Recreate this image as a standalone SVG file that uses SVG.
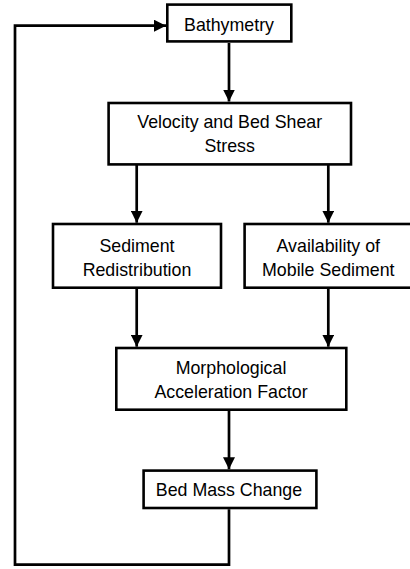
<svg xmlns="http://www.w3.org/2000/svg" width="410" height="569" viewBox="0 0 410 569">
<style>
.box{fill:#fff;stroke:#000;stroke-width:2.6}
.lbl{font-family:"Liberation Sans",Arial,sans-serif;font-size:17.8px;fill:#000;text-anchor:middle}
.edge{fill:none;stroke:#000;stroke-width:2.7}
</style>
<defs>
<marker id="ah" viewBox="0 0 12 12" refX="12" refY="6" markerWidth="12" markerHeight="12" markerUnits="userSpaceOnUse" orient="auto">
<path d="M0,0 L12,6 L0,12 z" fill="#000"/>
</marker>
</defs>
<rect width="410" height="569" fill="#fff"/>
<g id="connectors">
<path class="edge" d="M229,43 V101.5" marker-end="url(#ah)"/>
<path class="edge" d="M136.7,165 V222.7" marker-end="url(#ah)"/>
<path class="edge" d="M328.3,165 V222.7" marker-end="url(#ah)"/>
<path class="edge" d="M136.7,289 V346.7" marker-end="url(#ah)"/>
<path class="edge" d="M328.3,289 V346.7" marker-end="url(#ah)"/>
<path class="edge" d="M229,411 V469.3" marker-end="url(#ah)"/>
<path class="edge" d="M229,509.3 V564.7 H15 V25.7 H166" marker-end="url(#ah)"/>
</g>
<g id="bathymetry">
<rect class="box" x="167.3" y="4.6" width="124" height="36.8"/>
<text class="lbl" x="229" y="30.7">Bathymetry</text>
</g>
<g id="velocity">
<rect class="box" x="108.6" y="103" width="242.4" height="61.4"/>
<text class="lbl" x="229.7" y="128.3">Velocity and Bed Shear</text>
<text class="lbl" x="229.7" y="151.7">Stress</text>
</g>
<g id="sediment">
<rect class="box" x="53" y="224" width="168" height="63.7"/>
<text class="lbl" x="137" y="251.5">Sediment</text>
<text class="lbl" x="137" y="275.5">Redistribution</text>
</g>
<g id="availability">
<rect class="box" x="244.6" y="224" width="168" height="63.7"/>
<text class="lbl" x="328.3" y="251.5">Availability of</text>
<text class="lbl" x="328.3" y="275.5">Mobile Sediment</text>
</g>
<g id="morphological">
<rect class="box" x="116.3" y="348" width="230" height="61.7"/>
<text class="lbl" x="231" y="374">Morphological</text>
<text class="lbl" x="231" y="397.5">Acceleration Factor</text>
</g>
<g id="bedmass">
<rect class="box" x="143.6" y="470.6" width="172.8" height="37.4"/>
<text class="lbl" x="229" y="496">Bed Mass Change</text>
</g>
</svg>
